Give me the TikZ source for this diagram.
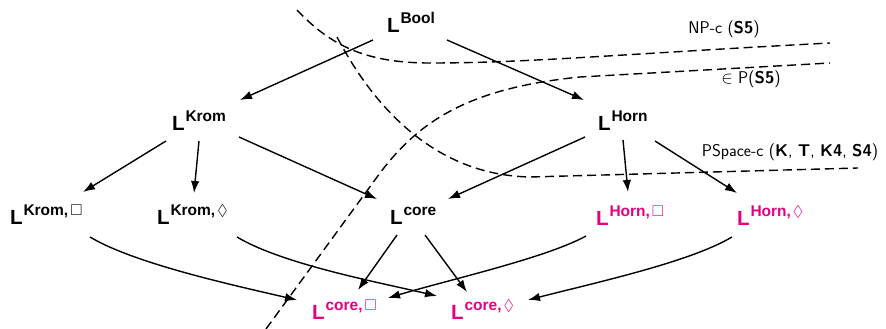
\documentclass[tikz,border=0pt]{standalone}
\usepackage{amssymb}
\usepackage{fontspec}
\newfontfamily\hv{Liberation Sans}
\usetikzlibrary{arrows.meta}
\definecolor{mag}{RGB}{228,0,132}
\newcommand{\Lsup}[1]{{\fontsize{20.5}{20}\selectfont\hv\bfseries L}\kern1pt\raisebox{9pt}{\fontsize{15.5}{15}\selectfont\hv\bfseries #1}}
\begin{document}
\begin{tikzpicture}[x=1pt,y=-1pt,
  lnode/.style={anchor=base west, inner sep=0pt, outer sep=0pt},
  edge/.style={line width=1.4pt, -{Latex[length=12pt,width=8.5pt]}},
  bound/.style={line width=1.4pt, dash pattern=on 9pt off 5pt},
  lab/.style={font=\fontsize{17}{17}\selectfont\sffamily, inner sep=0pt}]
\useasboundingbox (0,0) rectangle (886,329);
% nodes
\node[lnode] (bool) at (387,33) {\Lsup{Bool}};
\node[lnode] (krom) at (172,130) {\Lsup{Krom}};
\node[lnode] (horn) at (598,130) {\Lsup{Horn}};
\node[lnode] (kb) at (10,224) {\Lsup{Krom,\kern2pt$\Box$}};
\node[lnode] (kd) at (157,224) {\Lsup{Krom,\kern2pt$\Diamond$}};
\node[lnode] (core) at (390,224) {\Lsup{core}};
\node[lnode,text=mag] (hb) at (596,225) {\Lsup{Horn,\kern2pt$\Box$}};
\node[lnode,text=mag] (hd) at (737,225) {\Lsup{Horn,\kern2pt$\Diamond$}};
\node[lnode,text=mag] (cb) at (312,319) {\Lsup{core,\kern2pt$\Box$}};
\node[lnode,text=mag] (cd) at (451,319) {\Lsup{core,\kern2pt$\Diamond$}};
% labels
\node[lab] (npc) at (724,29) {NP-c (\textbf{S5})};
\node[lab] (inp) at (751,79) {$\in$ P(\textbf{S5})};
\node[lab] (psp) at (790,152) {PSpace-c (\textbf{K}, \textbf{T}, \textbf{K4}, \textbf{S4})};
% boundaries
\draw[bound] (297,10) .. controls (330,45) and (365,63) .. (430,63) .. controls (530,63) and (620,54) .. (830,43);
\draw[bound] (337,37) .. controls (370,100) and (430,175) .. (530,177) -- (858,168);
\draw[bound] (266,329) -- (380,173) .. controls (420,120) and (470,88) .. (580,77) -- (830,63);
% edges
\draw[edge] ([shift={(-14,7)}]bool.base west) -- ([shift={(68,-30)}]krom.base west);
\draw[edge] ([shift={(60,7)}]bool.base west) -- ([shift={(-14,-30)}]horn.base west);
\draw[edge] ([shift={(-6,11)}]krom.base west) -- ([shift={(73,-32)}]kb.base west);
\draw[edge] ([shift={(27,11)}]krom.base west) -- ([shift={(37,-31)}]kd.base west);
\draw[edge] ([shift={(67,7)}]krom.base west) -- ([shift={(-13,-25)}]core.base west);
\draw[edge] ([shift={(-13,7)}]horn.base west) -- ([shift={(58,-25)}]core.base west);
\draw[edge] ([shift={(25,10)}]horn.base west) -- ([shift={(32,-33)}]hb.base west);
\draw[edge] ([shift={(57,11)}]horn.base west) -- ([shift={(0,-32)}]hd.base west);
\draw[edge] ([shift={(7,11)}]core.base west) -- ([shift={(46,-29)}]cb.base west);
\draw[edge] ([shift={(35,11)}]core.base west) -- ([shift={(16,-27)}]cd.base west);
\draw[edge] ([shift={(80,13)}]kb.base west) .. controls +(45,27) and +(-60,-14) .. ([shift={(-15,-19)}]cb.base west);
\draw[edge] ([shift={(80,13)}]kd.base west) .. controls +(45,27) and +(-60,-14) .. ([shift={(-14,-23)}]cd.base west);
\draw[edge] ([shift={(-10,11)}]hb.base west) .. controls +(-40,22) and +(60,-18) .. ([shift={(76,-21)}]cb.base west);
\draw[edge] ([shift={(-5,12)}]hd.base west) .. controls +(-42,25) and +(70,-18) .. ([shift={(77,-19)}]cd.base west);
\end{tikzpicture}
\end{document}
